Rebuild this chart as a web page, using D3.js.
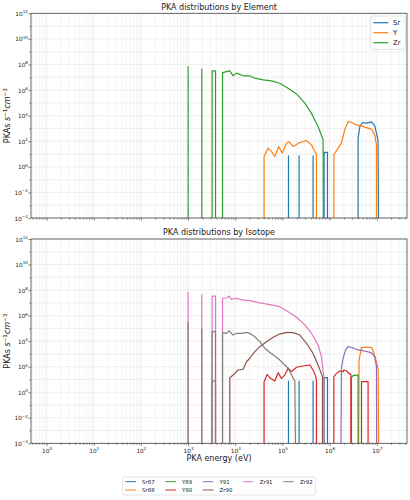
<!DOCTYPE html>
<html lang="en">
<head>
<meta charset="utf-8">
<title>PKA distributions</title>
<script src="https://cdn.jsdelivr.net/npm/d3@7"></script>
<style>
  body { margin: 0; background: #fff; }
  text { font-family: "DejaVu Sans", sans-serif; fill: #1a1a1a; }
</style>
</head>
<body>
<script>
// PKA rates: [energy (eV), PKAs s^-1 cm^-3], 0 = empty bin

// by element
var srTotal = [
  [1.34e5, 0], [1.34e5, 7.2], [1.34e5, 0],
  [2.25e5, 0], [2.25e5, 7.2], [2.25e5, 0],
  [4.46e5, 0], [4.46e5, 7.2], [4.46e5, 0],
  [7.63e5, 0], [7.63e5, 13.5], [9.0e5, 13.5], [9.0e5, 0],
  [4.01e6, 0], [4.01e6, 174], [4.36e6, 1.4e3], [4.97e6, 2.9e3], [6.04e6, 2.6e3],
  [7.71e6, 3.3e3], [9.06e6, 1.6e3], [1.06e7, 129], [1.10e7, 0]
];
var yTotal = [
  [4.08e4, 0], [4.08e4, 6.4], [4.97e4, 29], [5.86e4, 16], [6.88e4, 6.4], [8.37e4, 39],
  [9.84e4, 12], [1.22e5, 71], [1.36e5, 95], [1.68e5, 39], [2.33e5, 79], [3.24e5, 112],
  [4.13e5, 52], [4.85e5, 16], [5.27e5, 8.7], [5.27e5, 0],
  [1.23e6, 0], [1.23e6, 8.7], [1.51e6, 29], [1.78e6, 71], [2.09e6, 776], [2.46e6, 3.4e3],
  [2.90e6, 2.9e3], [3.71e6, 1.9e3], [4.73e6, 1.6e3], [5.56e6, 1.26e3], [6.53e6, 1.05e3],
  [7.71e6, 880], [9.06e6, 316], [9.84e6, 52], [9.84e6, 0]
];
var zrTotal = [
  [1.0e3, 0], [1.0e3, 6.8e7], [1.0e3, 0],
  [1.95e3, 0], [1.95e3, 4.3e7], [1.95e3, 0],
  [3.23e3, 0], [3.23e3, 3.2e7], [3.81e3, 3.2e7], [3.81e3, 0],
  [5.37e3, 0], [5.37e3, 2.3e7], [6.52e3, 2.8e7], [7.66e3, 3.2e7], [9.0e3, 1.3e7],
  [1.06e4, 2.1e7], [1.47e4, 1.3e7], [2.03e4, 1.3e7], [2.59e4, 8.5e6], [3.89e4, 6.2e6],
  [5.86e4, 5.2e6], [8.79e4, 3.4e6], [1.32e5, 1.4e6], [1.99e5, 5.0e5], [2.98e5, 9.4e4],
  [4.13e5, 1.5e4], [5.69e5, 1.4e3], [7.26e5, 130], [7.4e5, 0]
];

// by isotope
var sr87 = [
  [1.34e5, 0], [1.34e5, 7.6], [1.34e5, 0],
  [2.25e5, 0], [2.25e5, 7.6], [2.25e5, 0],
  [4.46e5, 0], [4.46e5, 7.6], [4.46e5, 0],
  [7.63e5, 0], [7.63e5, 13.8], [9.0e5, 13.8], [9.0e5, 0]
];
var sr88 = [
  [4.09e6, 0], [4.21e6, 330], [4.73e6, 3.2e3], [5.56e6, 3.2e3], [6.53e6, 3.3e3],
  [7.71e6, 3.2e3], [8.34e6, 1.7e3], [9.84e6, 245], [1.07e7, 55], [1.10e7, 0]
];
var y89 = [
  [2.90e6, 0], [2.90e6, 13.8], [3.14e6, 20], [3.53e6, 22], [4.01e6, 22], [4.01e6, 0]
];
var y90 = [
  [4.08e4, 0], [4.08e4, 6.7], [4.73e4, 25], [5.58e4, 12.3], [6.88e4, 7.6], [8.09e4, 34],
  [9.55e4, 12], [1.12e5, 22], [1.32e5, 75], [1.56e5, 41], [1.99e5, 90], [2.74e5, 113],
  [3.80e5, 135], [4.46e5, 55], [5.09e5, 16.6], [5.27e5, 6.7], [5.27e5, 0],
  [1.23e6, 0], [1.23e6, 16.6], [1.40e6, 30], [1.64e6, 46], [1.93e6, 41], [2.0e6, 55],
  [2.28e6, 46], [2.55e6, 30], [2.81e6, 25], [2.81e6, 0],
  [4.73e6, 0], [4.73e6, 6.7], [6.53e6, 6.7], [6.53e6, 0]
];
var y91 = [
  [1.72e6, 0], [1.78e6, 79], [1.93e6, 457], [2.17e6, 2.0e3], [2.46e6, 3.7e3], [2.95e6, 3.2e3],
  [3.77e6, 2.2e3], [4.81e6, 1.9e3], [6.14e6, 1.55e3], [7.71e6, 1.2e3], [9.06e6, 575],
  [9.84e6, 100], [9.98e6, 0]
];
var zr90 = [
  [3.23e3, 0], [3.23e3, 7.6], [3.81e3, 7.6], [3.81e3, 0],
  [7.66e3, 0], [7.66e3, 13.8], [9.0e3, 22], [1.15e4, 55], [1.47e4, 63], [1.73e4, 245],
  [2.03e4, 457], [2.59e4, 1.5e3], [3.31e4, 3.7e3], [4.59e4, 9.1e3], [6.34e4, 2.0e4],
  [8.79e4, 3.6e4], [1.22e5, 4.9e4], [1.68e5, 4.6e4], [2.33e5, 3.0e4], [3.24e5, 6.8e3],
  [4.46e5, 1.1e3], [5.69e5, 135], [7.06e5, 16.6], [7.06e5, 0]
];
var zr91 = [
  [1.0e3, 0], [1.0e3, 6.7e7], [1.0e3, 0],
  [1.95e3, 0], [1.95e3, 4.4e7], [1.95e3, 0],
  [3.23e3, 0], [3.23e3, 3.4e7], [3.81e3, 3.4e7], [3.81e3, 0],
  [5.37e3, 0], [5.37e3, 2.3e7], [6.52e3, 2.4e7], [7.41e3, 3.4e7], [8.32e3, 1.9e7],
  [1.06e4, 2.3e7], [1.36e4, 1.7e7], [2.03e4, 1.5e7], [3.31e4, 1.0e7], [5.40e4, 7.2e6],
  [8.79e4, 5.0e6], [1.32e5, 2.0e6], [1.99e5, 7.4e5], [2.98e5, 1.9e5], [4.13e5, 4.1e4],
  [5.69e5, 5.0e3], [6.72e5, 600], [7.52e5, 16.6], [7.52e5, 0]
];
var zr92 = [
  [1.0e3, 0], [1.0e3, 3.0e5], [1.0e3, 0],
  [1.95e3, 0], [1.95e3, 9.0e4], [1.95e3, 0],
  [3.23e3, 0], [3.23e3, 5.5e4], [3.81e3, 5.5e4], [3.81e3, 0],
  [5.37e3, 0], [5.37e3, 4.6e4], [6.52e3, 4.1e4], [7.41e3, 6.3e4], [9.0e3, 3.0e4],
  [1.06e4, 4.1e4], [1.36e4, 4.1e4], [1.73e4, 4.9e4], [2.03e4, 4.1e4], [2.59e4, 2.2e4],
  [3.31e4, 9.1e3], [4.23e4, 2.8e3], [5.40e4, 1.3e3], [6.88e4, 690], [8.79e4, 330],
  [1.12e5, 135], [1.32e5, 75], [1.56e5, 22], [1.83e5, 7.6], [1.92e5, 0]
];

var elementNames = ["Sr", "Y", "Zr"];
var elementData = [srTotal, yTotal, zrTotal];
var isotopeNames = ["Sr87", "Sr88", "Y89", "Y90", "Y91", "Zr90", "Zr91", "Zr92"];
var isotopeData = [sr87, sr88, y89, y90, y91, zr90, zr91, zr92];

var xMajorExp = d3.range(0, 8);     // 10^0 .. 10^7
var yMajorExp = d3.range(-4, 13, 2); // 10^-4 .. 10^12
var yAllExp = d3.range(-4, 13);

var tab10 = ["#1f77b4", "#ff7f0e", "#2ca02c", "#d62728", "#9467bd", "#8c564b", "#e377c2", "#7f7f7f"];

//Width and height
var w = 410, h = 500;
var left = 31, right = 407;

var svg = d3.select("body").append("svg")
    .attr("width", w)
    .attr("height", h);

var x = d3.scaleLog()
    .domain([Math.pow(10, -0.33), Math.pow(10, 7.64)])
    .range([left, right]);

// minor x positions (2..9 x 10^k) inside the domain
var xMinor = [];
d3.range(-1, 8).forEach(function (k) {
    d3.range(2, 10).forEach(function (m) {
        var v = m * Math.pow(10, k);
        if (v > x.domain()[0] && v < x.domain()[1]) xMinor.push(v);
    });
});

function expLabel(sel, e) {
    sel.text("10")
        .append("tspan")
        .attr("dy", -2.7)
        .attr("font-size", "72%")
        .text(e < 0 ? "\u2212" + (-e) : e);
}

function panel(top, bottom, title, names, data, xLabels, id) {
    var y = d3.scaleLog().domain([1e-4, 1e12]).range([bottom, top]);
    var g = svg.append("g");

    // grid
    g.append("g").selectAll("line").data(xMinor).enter().append("line")
        .attr("x1", function (d) { return x(d); }).attr("x2", function (d) { return x(d); })
        .attr("y1", top).attr("y2", bottom)
        .attr("stroke", "#ebebeb").attr("stroke-width", 0.5);
    g.append("g").selectAll("line").data(xMajorExp).enter().append("line")
        .attr("x1", function (d) { return x(Math.pow(10, d)); }).attr("x2", function (d) { return x(Math.pow(10, d)); })
        .attr("y1", top).attr("y2", bottom)
        .attr("stroke", "#e0e0e0").attr("stroke-width", 0.6);
    g.append("g").selectAll("line").data(yAllExp).enter().append("line")
        .attr("x1", left).attr("x2", right)
        .attr("y1", function (d) { return y(Math.pow(10, d)); }).attr("y2", function (d) { return y(Math.pow(10, d)); })
        .attr("stroke", "#e4e4e4").attr("stroke-width", 0.6);

    // clip
    svg.append("clipPath").attr("id", id)
        .append("rect").attr("x", left).attr("y", top)
        .attr("width", right - left).attr("height", bottom - top);

    var line = d3.line()
        .x(function (d) { return x(d[0]); })
        .y(function (d) { return d[1] > 0 ? y(d[1]) : bottom + 40; });

    g.append("g").attr("clip-path", "url(#" + id + ")")
        .selectAll("path").data(data).enter().append("path")
        .attr("d", line)
        .attr("fill", "none")
        .attr("stroke", function (d, i) { return tab10[i]; })
        .attr("stroke-width", 1.2)
        .attr("stroke-linejoin", "round");

    // axes
    var xa = g.append("g").attr("transform", "translate(0," + bottom + ")")
        .call(d3.axisBottom(x).tickValues(xMajorExp.map(function (e) { return Math.pow(10, e); }))
            .tickSize(2.6).tickFormat(""));
    g.append("g").attr("transform", "translate(0," + bottom + ")")
        .call(d3.axisBottom(x).tickValues(xMinor).tickSize(1.5).tickFormat(""));
    if (xLabels) {
        xa.selectAll(".tick").append("text")
            .attr("y", 9.8)
            .attr("text-anchor", "middle")
            .attr("font-size", 5.8)
            .each(function (d) { expLabel(d3.select(this), Math.round(Math.log10(d))); });
    }
    var ya = g.append("g").attr("transform", "translate(" + left + ",0)")
        .call(d3.axisLeft(y).tickValues(yMajorExp.map(function (e) { return Math.pow(10, e); }))
            .tickSize(2.6).tickFormat(""));
    g.append("g").attr("transform", "translate(" + left + ",0)")
        .call(d3.axisLeft(y).tickValues(yAllExp.filter(function (e) { return e % 2 !== 0; })
            .map(function (e) { return Math.pow(10, e); })).tickSize(1.5).tickFormat(""));
    ya.selectAll(".tick").append("text")
        .attr("x", -3)
        .attr("y", 2.1)
        .attr("text-anchor", "end")
        .attr("font-size", 5.8)
        .each(function (d) { expLabel(d3.select(this), Math.round(Math.log10(d))); });
    svg.selectAll(".domain").remove();
    svg.selectAll(".tick line").attr("stroke", "#333").attr("stroke-width", 0.6);

    g.append("rect")
        .attr("x", left).attr("y", top)
        .attr("width", right - left).attr("height", bottom - top)
        .attr("fill", "none").attr("stroke", "#444").attr("stroke-width", 0.8);

    // title and y label
    g.append("text")
        .attr("x", (left + right) / 2).attr("y", top - 3.8)
        .attr("text-anchor", "middle").attr("font-size", 8)
        .text(title);

    var yl = g.append("text")
        .attr("transform", "translate(10," + (top + bottom) / 2 + ") rotate(-90)")
        .attr("text-anchor", "middle").attr("font-size", 8);
    yl.append("tspan").text("PKAs ");
    yl.append("tspan").attr("font-style", "italic").text("s");
    yl.append("tspan").attr("dy", -3).attr("font-size", 5.6).text("\u22121");
    yl.append("tspan").attr("dy", 3).attr("font-style", "italic").text("cm");
    yl.append("tspan").attr("dy", -3).attr("font-size", 5.6).text("\u22123");

    return g;
}

var gTop = panel(13.3, 218, "PKA distributions by Element", elementNames, elementData, false, "clipTop");
var gBot = panel(239, 443.3, "PKA distributions by Isotope", isotopeNames, isotopeData, true, "clipBot");

svg.append("text")
    .attr("x", (left + right) / 2).attr("y", 460.7)
    .attr("text-anchor", "middle").attr("font-size", 8)
    .text("PKA energy (eV)");

// element legend (upper right, inside the axes)
var lg = gTop.append("g");
var lgBox = lg.append("rect")
    .attr("fill", "#fff").attr("fill-opacity", 0.85)
    .attr("stroke", "#d0d0d0").attr("stroke-width", 0.6).attr("rx", 1.5);
elementNames.forEach(function (n, i) {
    var yy = 22.7 + i * 10;
    lg.append("line").attr("x1", 373.3).attr("x2", 388.3).attr("y1", yy).attr("y2", yy)
        .attr("stroke", tab10[i]).attr("stroke-width", 1.2);
    lg.append("text").attr("x", 393).attr("y", yy + 2.4).attr("font-size", 6.8).text(n);
});
lgBox.attr("x", 370.8).attr("y", 16).attr("width", 34.4).attr("height", 33.3);

// isotope legend below the plot, 5 columns filled column by column
var ncol = 5;
var nrow = Math.ceil(isotopeNames.length / ncol);
var cols = [];
var extra = isotopeNames.length % ncol;
var idx = 0;
for (var c = 0; c < ncol; c++) {
    var cnt = (extra === 0 || c < extra) ? nrow : nrow - 1;
    cols.push(d3.range(idx, idx + cnt));
    idx += cnt;
}
var bl = svg.append("g");
var blBox = bl.append("rect")
    .attr("fill", "#fff").attr("stroke", "#d0d0d0").attr("stroke-width", 0.6).attr("rx", 1.5);
var fs = 5.4, handle = 10.6, pad = 6.2, colGap = 10.6;
var cx = 0;
cols.forEach(function (items) {
    var maxW = 0;
    items.forEach(function (k, r) {
        var yy = 481.7 + r * 8.3;
        bl.append("line").attr("x1", cx).attr("x2", cx + handle).attr("y1", yy).attr("y2", yy)
            .attr("stroke", tab10[k]).attr("stroke-width", 1);
        var t = bl.append("text").attr("x", cx + handle + pad).attr("y", yy + 1.9)
            .attr("font-size", fs).text(isotopeNames[k]);
        maxW = Math.max(maxW, t.node().getComputedTextLength());
    });
    cx += handle + pad + maxW + colGap;
});
var contentW = cx - colGap;
var bx = (left + right) / 2 - (contentW + 5.4) / 2;
bl.attr("transform", "translate(" + (bx + 2.7) + ",0)");
blBox.attr("x", -2.7).attr("y", 477).attr("width", contentW + 5.4).attr("height", 18);
</script>
</body>
</html>
